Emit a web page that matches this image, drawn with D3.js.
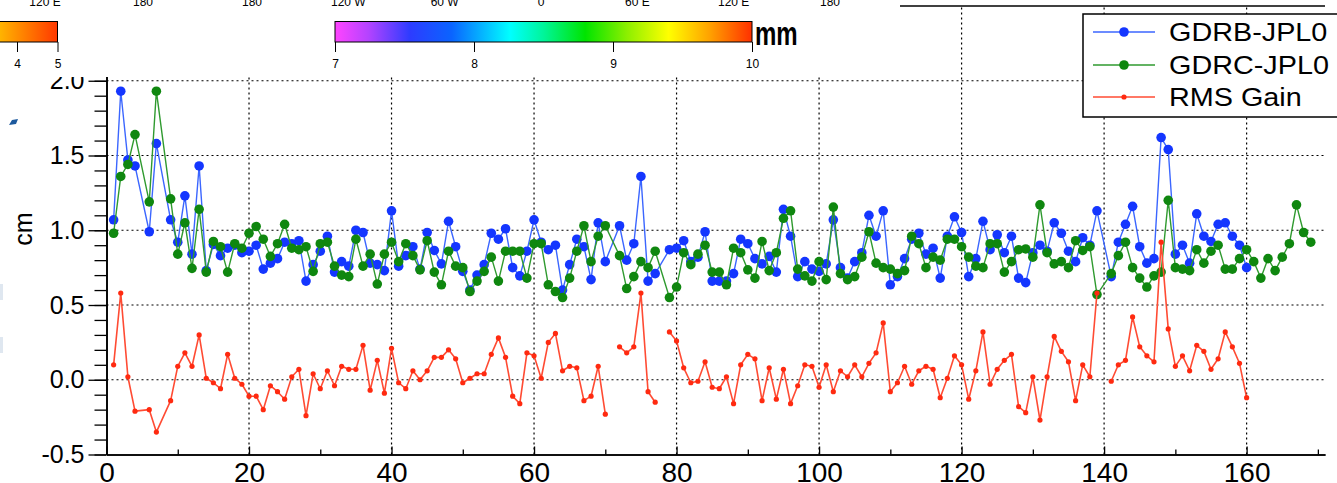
<!DOCTYPE html>
<html>
<head>
<meta charset="utf-8">
<script src="https://cdn.jsdelivr.net/npm/d3@7"></script>
<style>
  body { margin: 0; background: #fff; }
  svg { display: block; }
  text { font-family: "Liberation Sans", Arial, Helvetica, sans-serif; }
</style>
</head>
<body>
<svg id="chart"></svg>
<script>
const W = 1337;
const H = 483;

// cycle numbers (5 and 8 are absent)
const cycles = [
  1, 2, 3, 4, 6, 7, 9, 10, 11, 12, 13, 14, 15, 16, 17, 18, 19, 20,
  21, 22, 23, 24, 25, 26, 27, 28, 29, 30, 31, 32, 33, 34, 35, 36, 37, 38, 39, 40,
  41, 42, 43, 44, 45, 46, 47, 48, 49, 50, 51, 52, 53, 54, 55, 56, 57, 58, 59, 60,
  61, 62, 63, 64, 65, 66, 67, 68, 69, 70, 71, 72, 73, 74, 75, 76, 77, 78, 79, 80,
  81, 82, 83, 84, 85, 86, 87, 88, 89, 90, 91, 92, 93, 94, 95, 96, 97, 98, 99, 100,
  101, 102, 103, 104, 105, 106, 107, 108, 109, 110, 111, 112, 113, 114, 115, 116, 117, 118, 119, 120,
  121, 122, 123, 124, 125, 126, 127, 128, 129, 130, 131, 132, 133, 134, 135, 136, 137, 138, 139, 140,
  141, 142, 143, 144, 145, 146, 147, 148, 149, 150, 151, 152, 153, 154, 155, 156, 157, 158, 159, 160,
  161, 162, 163, 164, 165, 166, 167, 168, 169
];

const gdrb = [
  1.07, 1.93, 1.47, 1.43, 0.99, 1.58, 1.07, 0.92, 1.23, 0.84, 1.43, 0.73, 0.905, 0.83, 0.88, 0.90, 0.85, 0.86,
  0.90, 0.74, 0.78, 0.81, 0.92, 0.91, 0.93, 0.66, 0.77, 0.86, 0.96, 0.72, 0.79, 0.76, 1.00, 0.985, 0.78, 0.77, 0.73, 1.13,
  0.76, 0.83, 0.89, 0.74, 0.985, 0.865, 0.775, 1.06, 0.89, 0.725, 0.60, 0.70, 0.77, 0.98, 0.94, 1.01, 0.75, 0.695, 0.86, 1.07,
  0.92, 0.87, 0.90, 0.60, 0.77, 0.94, 0.89, 0.67, 1.05, 0.79, null, 1.03, 0.80, 0.91, 1.36, 0.66, 0.71, null, 0.87, 0.88,
  0.93, 0.79, 0.82, 0.99, 0.66, 0.66, 0.66, 0.71, 0.94, 0.91, 0.81, 0.775, 0.825, 0.72, 1.14, 0.96, 0.69, 0.79, 0.74, 0.725,
  0.775, 1.07, 0.75, 0.68, 0.79, 0.85, 1.10, 0.96, 1.13, 0.635, 0.69, 0.81, 0.94, 0.98, 0.84, 0.88, 0.68, 0.96, 1.09, 0.985,
  0.69, 0.81, 1.06, 0.87, 0.97, 0.85, 0.96, 0.68, 0.65, 0.85, 0.90, 0.86, 1.05, 0.98, 0.86, 0.79, 0.95, 0.90, 1.13, null,
  0.69, 0.92, 1.04, 1.16, 0.89, 0.78, 0.81, 1.62, 1.54, 0.84, 0.90, 0.78, 1.11, 0.96, 0.925, 1.04, 1.05, 0.96, 0.90, 0.75,
  null, null, null, null, null, null, null, null, null
];

const gdrc = [
  0.98, 1.36, 1.44, 1.64, 1.19, 1.93, 1.21, 0.84, 1.05, 0.745, 1.14, 0.72, 0.925, 0.89, 0.72, 0.91, 0.88, 0.98,
  1.025, 0.94, 0.825, 0.91, 1.04, 0.88, 0.87, 0.89, 0.725, 0.91, 0.92, 0.76, 0.70, 0.69, 0.94, 0.76, 0.84, 0.64, 0.84, 0.92,
  0.79, 0.91, 0.83, 0.735, 0.93, 0.72, 0.635, 0.86, 0.76, 0.75, 0.59, 0.66, 0.725, 0.82, 0.66, 0.86, 0.86, 0.86, 0.68, 0.91,
  0.91, 0.635, 0.59, 0.55, 0.68, 0.86, 1.03, 0.79, 0.96, 1.03, null, 0.83, 0.61, 0.69, 0.79, 0.75, 0.86, null, 0.55, 0.62,
  0.85, 0.77, 0.84, 0.90, 0.72, 0.72, 0.635, 0.88, 0.85, 0.735, 0.68, 0.925, 0.73, 0.85, 1.08, 1.13, 0.74, 0.695, 0.66, 0.79,
  0.67, 1.155, 0.71, 0.67, 0.69, 0.82, 0.99, 0.78, 0.75, 0.74, 0.71, 0.73, 0.96, 0.91, 0.75, 0.82, 0.80, 0.94, 0.94, 0.89,
  0.82, 0.76, 0.75, 0.91, 0.91, 0.72, 0.79, 0.87, 0.875, 0.82, 1.17, 0.85, 0.775, 0.79, 0.75, 0.93, 0.865, 0.89, 0.57, null,
  0.71, 0.83, 0.92, 0.75, 0.68, 0.62, 0.695, 0.72, 1.20, 0.75, 0.74, 0.73, 0.87, 0.78, 0.86, 0.90, 0.74, 0.74, 0.81, 0.87,
  0.79, 0.68, 0.81, 0.73, 0.82, 0.91, 1.17, 0.985, 0.92
];

const rmsGain = [
  0.10, 0.58, 0.02, -0.21, -0.20, -0.35, -0.14, 0.09, 0.18, 0.09, 0.30, 0.01, -0.02, -0.06, 0.17, 0.01, -0.03, -0.11,
  -0.11, -0.20, -0.04, -0.08, -0.13, 0.02, 0.07, -0.24, 0.04, -0.06, 0.06, -0.04, 0.09, 0.07, 0.07, 0.23, -0.07, 0.13, -0.09, 0.21,
  -0.02, -0.06, 0.06, 0.00, 0.06, 0.15, 0.15, 0.20, 0.14, -0.02, 0.01, 0.04, 0.04, 0.17, 0.28, 0.15, -0.11, -0.16, 0.18, 0.16,
  0.01, 0.25, 0.31, 0.06, 0.09, 0.08, -0.14, -0.11, 0.09, -0.23, null, 0.22, 0.18, 0.22, 0.58, -0.08, -0.15, null, 0.32, 0.26,
  0.08, -0.02, -0.01, 0.12, -0.05, -0.06, 0.02, -0.16, 0.10, 0.17, 0.14, -0.14, 0.08, -0.13, 0.07, -0.16, -0.04, 0.10, 0.09, -0.05,
  0.10, -0.08, 0.06, 0.02, 0.10, 0.02, 0.11, 0.18, 0.38, -0.08, -0.02, 0.09, -0.03, 0.06, 0.09, 0.07, -0.12, 0.01, 0.16, 0.10,
  -0.13, 0.06, 0.32, -0.03, 0.07, 0.13, 0.17, -0.18, -0.22, 0.02, -0.27, 0.02, 0.29, 0.19, 0.12, -0.14, 0.10, 0.02, 0.58, null,
  -0.01, 0.10, 0.13, 0.42, 0.22, 0.16, 0.12, 0.92, 0.34, 0.09, 0.16, 0.06, 0.23, 0.19, 0.07, 0.14, 0.32, 0.22, 0.11, -0.12,
  null, null, null, null, null, null, null, null, null
];

const seriesNames = ["GDRB-JPL0", "GDRC-JPL0", "RMS Gain"];
const xTicks = [0, 20, 40, 60, 80, 100, 120, 140, 160];
const xMinorTicks = [10, 30, 50, 70, 90, 110, 130, 150, 170];
const yTicks = [-0.5, 0.0, 0.5, 1.0, 1.5, 2.0];
const yGrid = [0.0, 0.5, 1.0, 1.5, 2.0];

// colour bar of the map panel above (mm)
const cbTicks = [7, 8, 9, 10];
const cbLeftTicks = [4, 5];
// longitude tick labels of the two maps above
const lonLeft = [120, 180];
const lonRight = [-180, -120, -60, 0, 60, 120, 180];

const svg = d3.select("#chart").attr("width", W).attr("height", H);

const x = d3.scaleLinear().domain([0, 171]).range([106.5, 1325]);
const y = d3.scaleLinear().domain([-0.5, 2.5]).range([454.5, 6]);

// grid
const grid = svg.append("g")
    .attr("stroke", "#000")
    .attr("stroke-width", 1.2)
    .attr("stroke-dasharray", "2,3");

grid.selectAll("line.h")
    .data(yGrid)
    .enter()
    .append("line")
    .attr("x1", x(0))
    .attr("x2", x(171))
    .attr("y1", d => y(d))
    .attr("y2", d => y(d));

grid.selectAll("line.v")
    .data(xTicks.slice(1))
    .enter()
    .append("line")
    .attr("x1", d => x(d))
    .attr("x2", d => x(d))
    .attr("y1", y(-0.5))
    .attr("y2", y(2.5));

// top spine
svg.append("line")
    .attr("x1", x(0)).attr("x2", x(171))
    .attr("y1", y(2.5)).attr("y2", y(2.5))
    .attr("stroke", "#000").attr("stroke-width", 1.5);

// axes
const yAxis = svg.append("g")
    .attr("transform", `translate(${x(0)},0)`)
    .call(d3.axisLeft(y).tickValues(yTicks).tickSize(18).tickSizeOuter(0).tickPadding(4)
        .tickFormat(d => d.toFixed(1)));
yAxis.selectAll("text").attr("font-size", 25).attr("fill", "#000");

svg.append("g")
    .attr("transform", `translate(${x(0)},0)`)
    .call(d3.axisLeft(y).tickValues(d3.range(-0.5, 2.45, 0.1)).tickSize(12).tickSizeOuter(0).tickFormat(""));

const xAxis = svg.append("g")
    .attr("transform", `translate(0,${y(-0.5)})`)
    .call(d3.axisBottom(x).tickValues(xTicks).tickSize(-8).tickSizeOuter(0).tickPadding(8));
xAxis.selectAll("text").attr("font-size", 28).attr("fill", "#000");

svg.append("g")
    .attr("transform", `translate(0,${y(-0.5)})`)
    .call(d3.axisBottom(x).tickValues(xMinorTicks).tickSize(-5).tickSizeOuter(0).tickFormat(""));

svg.selectAll(".domain").attr("stroke-width", 1.6);
svg.selectAll(".tick line").attr("stroke-width", 1.3);

// series
const rows = cycles.map((c, i) => ({ c: c, b: gdrb[i], g: gdrc[i], r: rmsGain[i] }));

const series = [
  { key: "b", line: "#3b66ff", dot: "#1436ff", r: 4.8, w: 1.4, connect: true },
  { key: "g", line: "#2f9a2f", dot: "#0f870f", r: 4.8, w: 1.4, connect: true },
  { key: "r", line: "#ff4b33", dot: "#ff2a10", r: 2.6, w: 1.6, connect: false }
];

series.forEach(s => {
  const pts = rows.filter(d => d[s.key] !== null);
  const line = d3.line()
      .x(d => x(d.c))
      .y(d => y(d[s.key]));
  if (!s.connect) line.defined(d => d[s.key] !== null);

  svg.append("path")
      .datum(s.connect ? pts : rows)
      .attr("fill", "none")
      .attr("stroke", s.line)
      .attr("stroke-width", s.w)
      .attr("stroke-linejoin", "round")
      .attr("d", line);

  svg.append("g").selectAll("circle")
      .data(pts)
      .enter()
      .append("circle")
      .attr("cx", d => x(d.c))
      .attr("cy", d => y(d[s.key]))
      .attr("r", s.r)
      .attr("fill", s.dot);
});

// y title
svg.append("text")
    .attr("transform", "translate(32,229) rotate(-90)")
    .attr("text-anchor", "middle")
    .attr("font-size", 25)
    .text("cm");

// pieces of the neighbouring panels (left edge)
svg.append("path")
    .attr("d", "M9,125 L12,120 L18,119 L16,124 Z")
    .attr("fill", "#1d5a9e");
svg.append("rect").attr("x", 0).attr("y", 284).attr("width", 3).attr("height", 16).attr("fill", "#dfe7f0");
svg.append("rect").attr("x", 0).attr("y", 337).attr("width", 3).attr("height", 16).attr("fill", "#dfe7f0");

// the map panel above covers the top of the plot
svg.append("rect")
    .attr("x", 0).attr("y", 0)
    .attr("width", 900).attr("height", 77)
    .attr("fill", "#fff");

// longitude labels of the maps (only bottom of them visible)
const lonL = d3.scaleLinear().domain([120, 180]).range([45, 143]);
const lonR = d3.scaleLinear().domain([-180, 180]).range([252, 830]);
const lonFmt = d => {
  const a = Math.abs(d);
  if (a === 0 || a === 180) return String(a);
  return a + (d < 0 ? " W" : " E");
};
svg.append("g").selectAll("text")
    .data(lonLeft)
    .enter()
    .append("text")
    .attr("x", d => lonL(d))
    .attr("y", 6)
    .attr("text-anchor", "middle")
    .attr("font-size", 12)
    .text(lonFmt);
svg.append("g").selectAll("text")
    .data(lonRight)
    .enter()
    .append("text")
    .attr("x", d => lonR(d))
    .attr("y", 6)
    .attr("text-anchor", "middle")
    .attr("font-size", 12)
    .text(lonFmt);

// colour bars
const defs = svg.append("defs");
const g1 = defs.append("linearGradient").attr("id", "cbMain");
[[0, "#ff44ff"], [0.08, "#b443ff"], [0.18, "#2d3cff"], [0.28, "#0a64ff"], [0.42, "#00ffff"],
 [0.5, "#00f59a"], [0.6, "#00e400"], [0.7, "#8cef00"], [0.8, "#ffff00"], [0.9, "#ffa000"], [1, "#ff3000"]]
  .forEach(s => g1.append("stop").attr("offset", s[0]).attr("stop-color", s[1]));
const g2 = defs.append("linearGradient").attr("id", "cbLeft");
[[0, "#ffb800"], [1, "#ff3800"]]
  .forEach(s => g2.append("stop").attr("offset", s[0]).attr("stop-color", s[1]));

const cb = d3.scaleLinear().domain([7, 10]).range([335, 752]);
const cbL = d3.scaleLinear().domain([4, 5]).range([17, 57.5]);

svg.append("rect")
    .attr("x", cb(7)).attr("y", 21.5)
    .attr("width", cb(10) - cb(7)).attr("height", 20.5)
    .attr("fill", "url(#cbMain)").attr("stroke", "#000").attr("stroke-width", 1);
svg.append("rect")
    .attr("x", -2).attr("y", 21.5)
    .attr("width", cbL(5) + 2).attr("height", 20.5)
    .attr("fill", "url(#cbLeft)").attr("stroke", "#000").attr("stroke-width", 1);

svg.append("g")
    .attr("transform", "translate(0,42)")
    .call(d3.axisBottom(cb).tickValues(cbTicks).tickSize(10).tickSizeOuter(0).tickPadding(7).tickFormat(d3.format("d")))
    .call(g => g.select(".domain").remove())
    .selectAll("text").attr("font-size", 12).attr("fill", "#000");
svg.append("g")
    .attr("transform", "translate(0,42)")
    .call(d3.axisBottom(cbL).tickValues(cbLeftTicks).tickSize(10).tickSizeOuter(0).tickPadding(7).tickFormat(d3.format("d")))
    .call(g => g.select(".domain").remove())
    .selectAll("text").attr("font-size", 12).attr("fill", "#000");

svg.append("text")
    .attr("transform", "translate(755,45) scale(1,1.35)")
    .attr("font-size", 24)
    .attr("font-weight", "bold")
    .text("mm");

// legend
const legend = svg.append("g").attr("transform", "translate(1083,14)");
legend.append("rect")
    .attr("width", 320).attr("height", 103)
    .attr("fill", "#fff").attr("stroke", "#000").attr("stroke-width", 1.5);

const legendRows = [18, 51, 83];
series.forEach((s, i) => {
  const row = legend.append("g").attr("transform", `translate(0,${legendRows[i]})`);
  row.append("line")
      .attr("x1", 10).attr("x2", 72)
      .attr("stroke", s.line).attr("stroke-width", s.w);
  row.append("circle")
      .attr("cx", 41).attr("r", s.r)
      .attr("fill", s.dot);
  row.append("text")
      .attr("transform", "translate(86,9) scale(1.2,1.05)")
      .attr("font-size", 24)
      .text(seriesNames[i]);
});
</script>
</body>
</html>
